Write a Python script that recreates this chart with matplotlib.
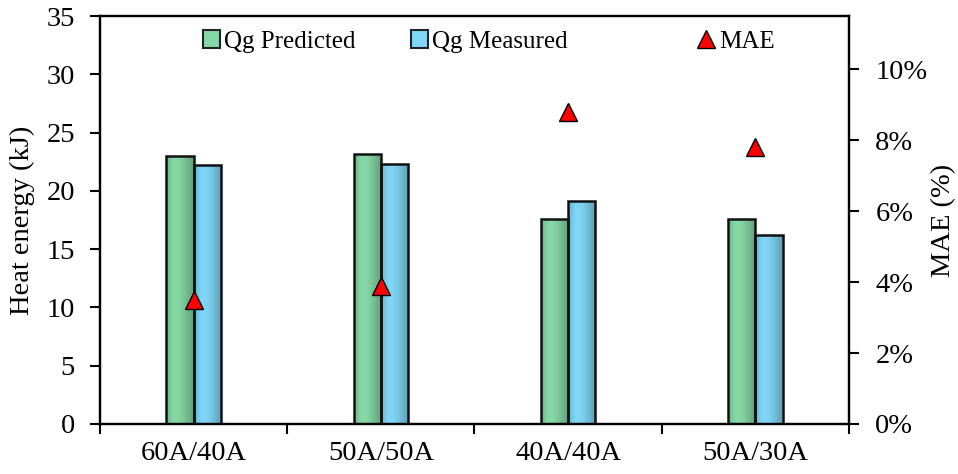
import matplotlib
matplotlib.use("Agg")
import matplotlib.pyplot as plt
import numpy as np
from matplotlib.ticker import PercentFormatter, FixedLocator
from matplotlib.patches import Rectangle
from matplotlib.lines import Line2D

plt.rcParams['font.family'] = ['Liberation Serif', 'DejaVu Serif']

categories = ["60A/40A", "50A/50A", "40A/40A", "50A/30A"]
qg_predicted = [23.0, 23.2, 17.6, 17.6]
qg_measured = [22.2, 22.3, 19.1, 16.2]
mae = [0.035, 0.039, 0.088, 0.078]

green = "#86d9a6"
blue = "#80d7f7"

fig = plt.figure(figsize=(9.58, 4.74), dpi=100)
ax = fig.add_axes([0.1044, 0.1055, 0.7818, 0.8607])
ax2 = ax.twinx()

x = np.arange(len(categories))
w = 0.146

bars_p = ax.bar(x - w / 2, qg_predicted, w, color=green, edgecolor="none", zorder=2)
bars_m = ax.bar(x + w / 2, qg_measured, w, color=blue, edgecolor="none", zorder=2)

def shade(bars, base):
    prof = np.array([0.84, 0.97, 1.0, 0.99, 0.95, 0.89, 0.82, 0.76])
    rgb = np.array(matplotlib.colors.to_rgb(base))
    img = np.clip(rgb[None, None, :] * prof[None, :, None], 0, 1)
    for b in bars:
        x0, w0, h0 = b.get_x(), b.get_width(), b.get_height()
        im = ax.imshow(img, extent=(x0, x0 + w0, 0, h0), aspect="auto",
                       interpolation="bicubic", zorder=2.5)
        im.set_clip_path(b)
        ax.bar(b.get_x() + w0 / 2, h0, w0, color="none",
               edgecolor="#111111", linewidth=1.8, zorder=3)

shade(bars_p, green)
shade(bars_m, blue)

ax2.plot(x, mae, linestyle="none", marker="^", markersize=13,
         markerfacecolor="#ff0000", markeredgecolor="#000000",
         markeredgewidth=1.0, zorder=5)

ax.set_xlim(-0.5, len(categories) - 0.5)
ax.set_ylim(0, 35)
ax.set_yticks(np.arange(0, 36, 5))
ax2.set_ylim(0, 0.115)
ax2.set_yticks(np.arange(0, 0.101, 0.02))
ax2.yaxis.set_major_formatter(PercentFormatter(1.0, decimals=0))

ax.set_xticks(x)
ax.set_xticklabels(categories)
ax.xaxis.set_minor_locator(FixedLocator(np.arange(-0.5, len(categories), 1.0)))
ax.tick_params(axis="x", which="major", length=0, pad=12, labelsize=20.5)
ax.tick_params(axis="x", which="minor", length=7, width=1.5, direction="out")
ax.tick_params(axis="y", length=7, width=1.5, direction="out", labelsize=20.5, pad=11)
ax2.tick_params(axis="y", length=7, width=1.5, direction="out", labelsize=20.5, pad=12)

for a in (ax, ax2):
    for s in a.spines.values():
        s.set_linewidth(1.6)
        s.set_color("black")

ax.set_ylabel("Heat energy (kJ)", fontsize=20.5, labelpad=8)
ax2.set_ylabel("MAE (%)", fontsize=20.5, rotation=90)
ax2.yaxis.set_label_coords(1.127, 0.5)
ax2.yaxis.label.set_va("center")

h1 = Rectangle((0, 0), 1, 1, facecolor=green, edgecolor="#222222", linewidth=1.5)
h2 = Rectangle((0, 0), 1, 1, facecolor=blue, edgecolor="#222222", linewidth=1.5)
h3 = Line2D([], [], linestyle="none", marker="^", markersize=13,
            markerfacecolor="#ff0000", markeredgecolor="#000000", markeredgewidth=1.0)

common = dict(frameon=False, fontsize=18, handlelength=0.7, handleheight=0.7,
              handletextpad=0.15, borderaxespad=0, borderpad=0, loc="center left")
l1 = ax2.legend([h1], ["Qg Predicted"], bbox_to_anchor=(0.137, 0.937), **common)
ax2.add_artist(l1)
l2 = ax2.legend([h2], ["Qg Measured"], bbox_to_anchor=(0.415, 0.937), **common)
ax2.add_artist(l2)
l3 = ax2.legend([h3], ["MAE"], bbox_to_anchor=(0.798, 0.937), **common)

fig.savefig("out.png", dpi=100)
